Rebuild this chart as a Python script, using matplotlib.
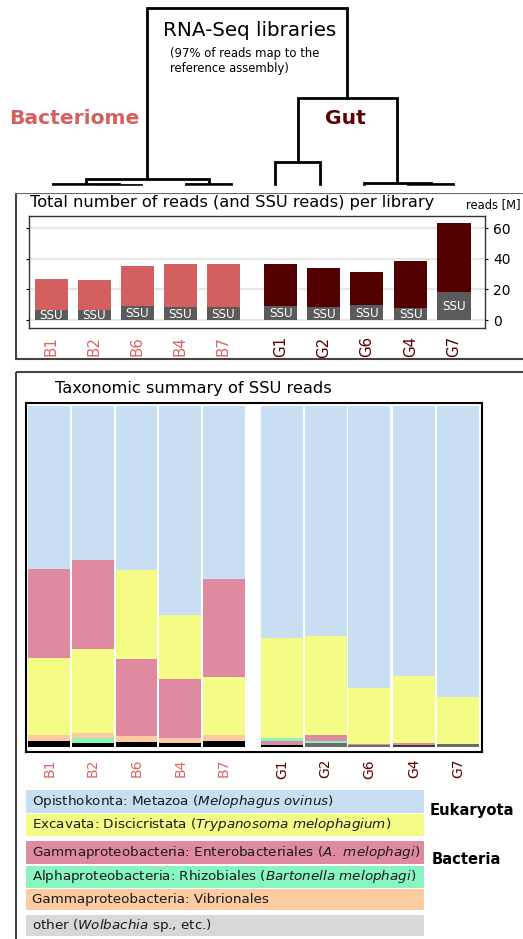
import matplotlib
matplotlib.use('Agg')
import matplotlib.pyplot as plt
from matplotlib.patches import Rectangle
import numpy as np

plt.rcParams['font.family'] = ['DejaVu Sans']
plt.rcParams['mathtext.fontset'] = 'dejavusans'

# ---------------- data ----------------
libraries = ['B1', 'B2', 'B6', 'B4', 'B7', 'G1', 'G2', 'G6', 'G4', 'G7']
tissue = ['Bacteriome'] * 5 + ['Gut'] * 5
total_reads = [26.9, 26.2, 35.4, 36.7, 36.7, 36.7, 34.1, 31.5, 38.7, 63.6]   # millions
ssu_reads = [6.6, 6.6, 9.2, 8.5, 8.5, 9.2, 8.5, 9.8, 7.9, 18.4]               # millions

# SSU taxonomic fractions
metazoa = [0.478, 0.452, 0.481, 0.615, 0.507, 0.679, 0.674, 0.826, 0.791, 0.853]
discicristata = [0.227, 0.246, 0.261, 0.186, 0.171, 0.293, 0.290, 0.164, 0.196, 0.137]
enterobacteriales = [0.260, 0.261, 0.229, 0.175, 0.287, 0.010, 0.019, 0.003, 0.006, 0.001]
rhizobiales = [0.0, 0.0126, 0.0, 0.0, 0.0, 0.0105, 0.005, 0.0, 0.0, 0.0]
vibrionales = [0.017, 0.014, 0.015, 0.012, 0.016, 0.0, 0.0, 0.0, 0.0, 0.0]
other = [0.018, 0.013, 0.016, 0.013, 0.018, 0.007, 0.012, 0.007, 0.007, 0.008]

legend_labels = [
    r'Opisthokonta: Metazoa ($\mathit{Melophagus\ ovinus}$)',
    r'Excavata: Discicristata ($\mathit{Trypanosoma\ melophagium}$)',
    r'Gammaproteobacteria: Enterobacteriales ($\mathit{A.\ melophagi}$)',
    r'Alphaproteobacteria: Rhizobiales ($\mathit{Bartonella\ melophagi}$)',
    r'Gammaproteobacteria: Vibrionales',
    r'other ($\mathit{Wolbachia}$ sp., etc.)',
]
domains = ['Eukaryota', 'Bacteria']

# dendrogram (leaf index pairs / merge heights in px from top)
tree = (8, (179, (184, 0, (184.5, 1, 2)), (184, 3, 4)),
           (98, (162, 5, 6), (183, 7, (183.5, 8, 9))))

# ---------------- style ----------------
tissue_color = {'Bacteriome': '#d45f5f', 'Gut': '#520000'}
label_color = {'Bacteriome': '#dc6464', 'Gut': '#5a0000'}
taxa_colors = ['#c7def3', '#f4fc86', '#df8aa1', '#86f5bf', '#fdcba2', '#d8d8d8']
other_bar_colors = ['black'] * 5 + ['black', '#6b6b6b', '#6b6b6b', '#3c3c3c', '#6b6b6b']
positions = np.array([0, 1, 2, 3, 4, 5.33, 6.33, 7.33, 8.35, 9.36])
leaf_x = [53, 97, 141, 186, 231, 275, 320, 364, 408, 453]
leaf_bottom = 187

W, H = 523, 939
fig = plt.figure(figsize=(W / 100, H / 100), dpi=100)

bg = fig.add_axes([0, 0, 1, 1])
bg.set_xlim(0, W)
bg.set_ylim(H, 0)
bg.axis('off')

# dendrogram
def draw(node):
    if isinstance(node, int):
        return leaf_x[node], leaf_bottom
    h, l, r = node
    xl, yl = draw(l)
    xr, yr = draw(r)
    bg.plot([xl, xl, xr, xr], [yl, h, h, yr], color='black', lw=2,
            solid_joinstyle='miter', solid_capstyle='butt')
    return (xl + xr) / 2, h

draw(tree)
bg.add_patch(Rectangle((0, leaf_bottom - 1), W, 6, color='white', zorder=3))

bg.text(250, 31, 'RNA-Seq libraries', fontsize=14.3, ha='center', va='center')
bg.text(170, 61, '(97% of reads map to the\nreference assembly)', fontsize=8.4,
        ha='left', va='center', linespacing=1.15)
bg.text(74, 118, 'Bacteriome', fontsize=14.6, fontweight='bold',
        color=tissue_color['Bacteriome'], ha='center', va='center')
bg.text(345, 118, 'Gut', fontsize=14.6, fontweight='bold',
        color='#5c0000', ha='center', va='center')

# panel boxes
bg.add_patch(Rectangle((16, 193), 600, 166, fill=False, ec='#444444', lw=1.5))
bg.add_patch(Rectangle((16, 372), 600, 700, fill=False, ec='#444444', lw=1.5))
bg.text(30, 203, 'Total number of reads (and SSU reads) per library',
        fontsize=11.7, ha='left', va='center')
bg.text(466, 205, 'reads [M]', fontsize=8.3, ha='left', va='center')
bg.text(55, 389, 'Taxonomic summary of SSU reads', fontsize=11.7,
        ha='left', va='center')

# ---------------- top chart ----------------
ax1 = fig.add_axes([29 / W, 1 - 328 / H, (485 - 29) / W, (328 - 216) / H])
colors1 = [tissue_color[t] for t in tissue]
ax1.bar(positions, total_reads, width=0.77, color=colors1, zorder=2)
ax1.bar(positions, ssu_reads, width=0.77, color='#5b5b5b', zorder=3)
for x, s in zip(positions, ssu_reads):
    ax1.text(x, s / 2 - 0.6, 'SSU', color='white', fontsize=8.6,
             ha='center', va='center', zorder=4)
ax1.set_xlim(-0.52, 10.08)
ax1.set_ylim(-5.2, 68)
ax1.set_yticks([0, 20, 40, 60])
ax1.grid(axis='y', color='#e6e6e6', lw=1.5, zorder=0)
ax1.set_axisbelow(True)
ax1.tick_params(axis='y', left=True, right=True, labelleft=False,
                labelright=True, length=2, labelsize=10, pad=4)
ax1.set_xticks(positions)
ax1.set_xticklabels(libraries, rotation=90, fontsize=10.8)
ax1.tick_params(axis='x', length=0, pad=6)
for lbl, t in zip(ax1.get_xticklabels(), tissue):
    lbl.set_color(label_color[t])
for s in ax1.spines.values():
    s.set_color('#333333')
    s.set_linewidth(1)

# ---------------- bottom chart ----------------
ax2 = fig.add_axes([26 / W, 1 - 752 / H, (482 - 26) / W, (752 - 403) / H])
series = [metazoa, discicristata, enterobacteriales, rhizobiales, vibrionales]
for i, x in enumerate(positions):
    vals = [s[i] for s in series]
    tot = sum(vals) + other[i]
    ax2.bar(x, other[i] / tot, bottom=0, width=0.96, color=other_bar_colors[i])
    bottom = other[i] / tot
    for k in np.argsort(vals):
        v = vals[k] / tot
        if v <= 0:
            continue
        ax2.bar(x, v, bottom=bottom, width=0.96, color=taxa_colors[k])
        bottom += v
ax2.set_xlim(-0.53, 9.91)
ax2.set_ylim(-0.0147, 1.0088)
ax2.set_yticks([])
ax2.set_xticks(positions)
ax2.set_xticklabels(libraries, rotation=90, fontsize=10)
ax2.tick_params(axis='x', length=0, pad=5)
for lbl, t in zip(ax2.get_xticklabels(), tissue):
    lbl.set_color(label_color[t])
for s in ax2.spines.values():
    s.set_color('black')
    s.set_linewidth(1.5)

# ---------------- legend ----------------
rows = [(790, 812.5), (813.7, 835.7), (841, 864.3), (865.7, 887.7), (889, 909.7), (915, 935.7)]
for (y0, y1), lab, c in zip(rows, legend_labels, taxa_colors):
    bg.add_patch(Rectangle((26, y0), 398, y1 - y0, color=c, lw=0))
    bg.text(32, (y0 + y1) / 2, lab, fontsize=9.7, color='#1a1a1a',
            ha='left', va='center')
bg.text(430, 811, domains[0], fontsize=10.6, fontweight='bold', ha='left', va='center')
bg.text(432, 860, domains[1], fontsize=10.6, fontweight='bold', ha='left', va='center')

fig.savefig('out.png', dpi=100)
